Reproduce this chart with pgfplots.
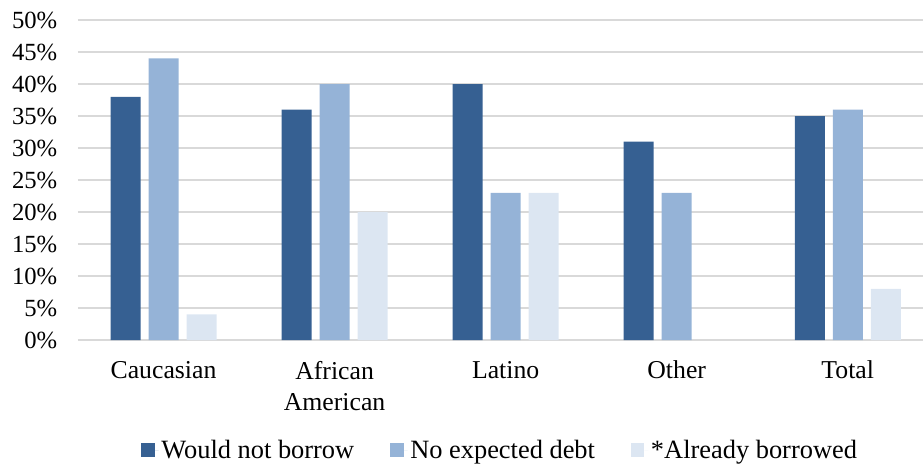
\documentclass[border=0pt]{standalone}
\usepackage{pgfplots}
\pgfplotsset{compat=1.18}
\usepackage{fontspec}
\setmainfont{Liberation Serif}

\definecolor{cDark}{RGB}{54,96,146}
\definecolor{cMid}{RGB}{149,179,215}
\definecolor{cLight}{RGB}{220,230,242}
\definecolor{cGrid}{RGB}{217,217,217}

\begin{document}
\begin{tikzpicture}
    % page = 923 x 468 px, 1 px = 0.75pt; axis box 845 x 320 px
    \useasboundingbox (-58.5pt,-96pt) rectangle (633.75pt,255pt);
    \begin{axis}[
            scale only axis,
            width=633.75pt, height=240pt,
            ybar=6pt, bar width=22.5pt,
            xmin=-0.5, xmax=4.44,
            ymin=0, ymax=50,
            xtick={0,1,2,3,4},
            xticklabels={Caucasian, {African\\American}, Latino, Other, Total},
            xticklabel style={align=center, yshift=-8pt,
                font=\fontsize{19.3}{23.5}\selectfont},
            ytick={0,5,...,50},
            yticklabels={0\%,5\%,10\%,15\%,20\%,25\%,30\%,35\%,40\%,45\%,50\%},
            yticklabel style={xshift=-12pt},
            tick style={draw=none},
            axis line style={draw=none},
            ymajorgrids,
            grid style={cGrid, line width=1pt},
            font=\fontsize{18.5}{21}\selectfont,
            every axis plot/.append style={draw=none,
                legend image code/.code={\fill[##1] (0pt,-5pt) rectangle (10pt,5pt);
                    \path (10pt,0pt) -- (13pt,0pt);}},
            legend style={at={(0.5,-0.344)}, anchor=center, draw=none,
                legend columns=3, font=\fontsize{19.8}{22}\selectfont,
                /tikz/every even column/.append style={column sep=25pt}},
        ]
        \addplot[fill=cDark] coordinates {(0,38) (1,36) (2,40) (3,31) (4,35)};
        \addplot[fill=cMid] coordinates {(0,44) (1,40) (2,23) (3,23) (4,36)};
        \addplot[fill=cLight] coordinates {(0,4) (1,20) (2,23) (4,8)};
        \legend{Would not borrow, No expected debt, *Already borrowed}
    \end{axis}
\end{tikzpicture}
\end{document}
